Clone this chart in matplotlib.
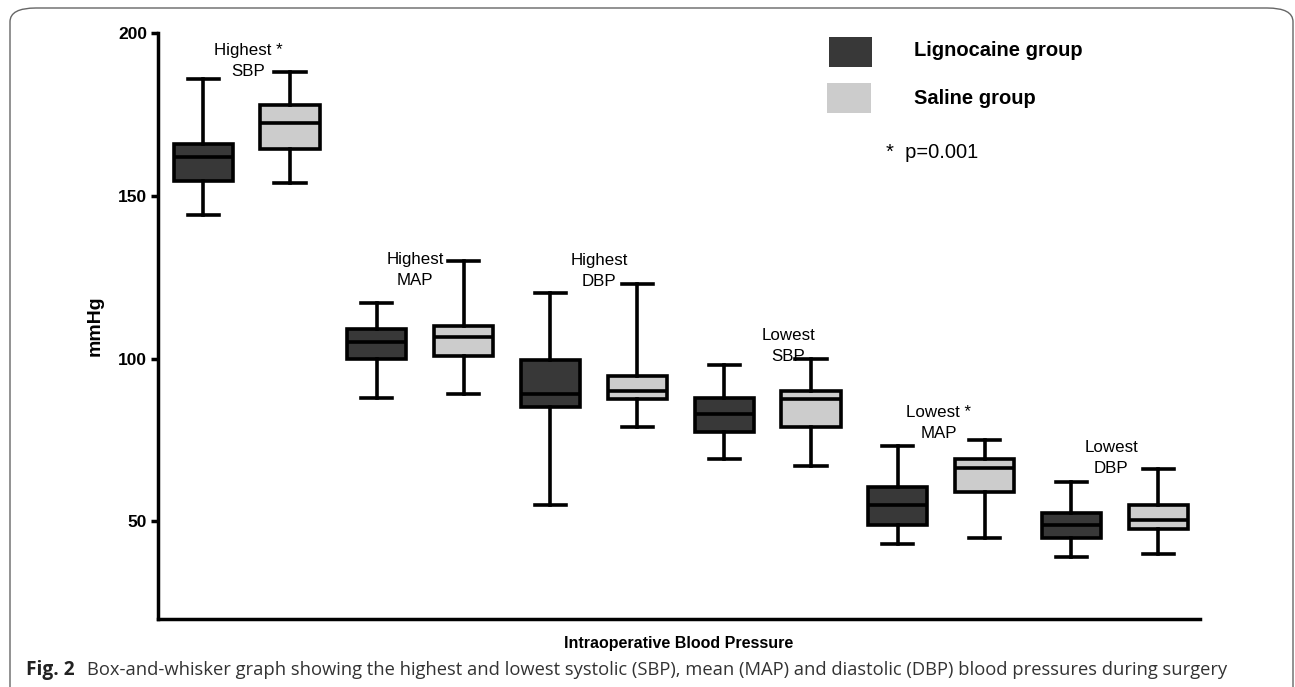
import numpy as np
import matplotlib
matplotlib.use("Agg")
import matplotlib.pyplot as plt
from matplotlib.patches import Rectangle, FancyBboxPatch

plt.rcParams['font.family'] = ['Liberation Sans', 'DejaVu Sans']

# data (mmHg)
groups = ["Highest *\nSBP", "Highest\nMAP", "Highest\nDBP", "Lowest\nSBP", "Lowest *\nMAP", "Lowest\nDBP"]
lig_lo = [144, 88, 55, 69, 43, 39]
lig_q1 = [154.5, 100, 85, 77.5, 49, 45]
lig_med = [162, 105, 89, 83, 55, 49]
lig_q3 = [166, 109, 99.5, 88, 60.5, 52.5]
lig_hi = [186, 117, 120, 98, 73, 62]
sal_lo = [154, 89, 79, 67, 45, 40]
sal_q1 = [164.5, 100.7, 87.6, 79, 59, 47.5]
sal_med = [172.5, 106.5, 90, 87.5, 66.3, 50.5]
sal_q3 = [178, 110, 94.5, 90, 69, 55]
sal_hi = [188, 130, 123, 100, 75, 66]

# label anchor (x position, y value) for each group
lab_x = [1.52, 3.44, 5.56, 7.74, 9.47, 11.46]
lab_y = [191.4, 127.3, 127, 103.8, 80.2, 69.5]

dark = '#383838'
light = '#cccccc'

fig = plt.figure(figsize=(12.95, 6.87), dpi=100)
W, H = 1295, 687
ax = fig.add_axes([158 / W, 1 - 619 / H, (1200 - 158) / W, (619 - 33) / H])

def stats(lo, q1, med, q3, hi):
    return [dict(whislo=a, q1=b, med=c, q3=d, whishi=e, fliers=[]) for a, b, c, d, e in zip(lo, q1, med, q3, hi)]

lw = 2.6
n = len(groups)
for st, pos, col in [(stats(lig_lo, lig_q1, lig_med, lig_q3, lig_hi), np.arange(n) * 2 + 1, dark),
                     (stats(sal_lo, sal_q1, sal_med, sal_q3, sal_hi), np.arange(n) * 2 + 2, light)]:
    ax.bxp(st, positions=pos, widths=0.68, patch_artist=True, showfliers=False,
           boxprops=dict(facecolor=col, edgecolor='black', linewidth=lw),
           medianprops=dict(color='black', linewidth=lw),
           whiskerprops=dict(color='black', linewidth=lw),
           capprops=dict(color='black', linewidth=lw),
           capwidths=0.36, manage_ticks=False)

for g, xx, yy in zip(groups, lab_x, lab_y):
    ax.text(xx, yy, g, ha='center', va='center', fontsize=12.2, linespacing=1.5)

ax.set_xlim(0.48, 12.48)
ax.set_ylim(20, 200)
ax.set_yticks([50, 100, 150, 200])
ax.set_xticks([])
ax.spines['top'].set_visible(False)
ax.spines['right'].set_visible(False)
ax.spines['left'].set_linewidth(2.5)
ax.spines['bottom'].set_linewidth(2.5)
ax.tick_params(axis='y', width=2.5, length=5, labelsize=12.5, pad=3)
for t in ax.get_yticklabels():
    t.set_fontweight('bold')
ax.set_ylabel('mmHg', fontsize=14, fontweight='bold', labelpad=10)
ax.set_xlabel('Intraoperative Blood Pressure', fontsize=11.5, fontweight='bold', labelpad=12)

# legend
def px(x, y):
    return x / W, 1 - y / H
fig.add_artist(Rectangle(px(829, 67), 43 / W, 30 / H, facecolor=dark, edgecolor='none'))
fig.add_artist(Rectangle(px(827, 113), 44 / W, 30 / H, facecolor=light, edgecolor='none'))
fig.text(*px(914, 50), 'Lignocaine group', fontsize=14.5, fontweight='bold', va='center')
fig.text(*px(914, 98), 'Saline group', fontsize=14.5, fontweight='bold', va='center')
fig.text(*px(886, 153), '*  p=0.001', fontsize=14.5, va='center')

# caption and frame
fig.add_artist(FancyBboxPatch((10 / W, -0.05), 1283 / W, 1.0 - 8 / H + 0.05,
                              boxstyle='round,pad=0,rounding_size=0.02', transform=fig.transFigure,
                              facecolor='none', edgecolor='#666666', linewidth=1.0))
fig.text(*px(26, 670), 'Fig. 2', fontsize=13.8, fontweight='bold', va='center', family='Open Sans', color='#222222')
fig.text(*px(87, 670), 'Box-and-whisker graph showing the highest and lowest systolic (SBP), mean (MAP) and diastolic (DBP) blood pressures during surgery',
         fontsize=13.2, va='center', family='Open Sans', color='#333333')

fig.savefig('out.png', dpi=100)
